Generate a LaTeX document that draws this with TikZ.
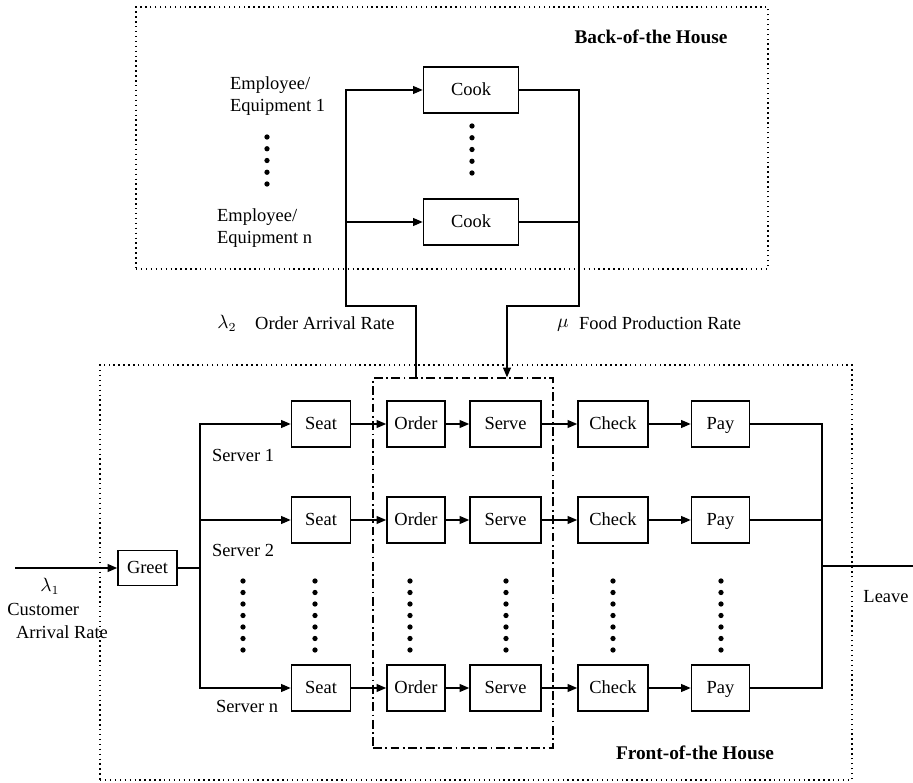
\documentclass[tikz,border=0pt]{standalone}
\usepackage{fontspec}
\setmainfont{Liberation Serif}
\usepackage{tikz}
\usetikzlibrary{arrows.meta,positioning,calc}

\begin{document}
\begin{tikzpicture}[x=0.02cm, y=-0.02cm, font=\fontsize{10.5}{13}\selectfont,
    proc/.style={draw, line width=0.9pt, minimum height=0.92cm, inner sep=1pt,
      text height=1.5ex, text depth=0.1ex},
    arr/.style={-{Triangle[length=5.5pt,width=4.5pt]}},
    conn/.style={line width=0.75pt},
    region/.style={draw, dotted, line width=0.8pt},
    vdots/.style={fill=black, circle, inner sep=0pt, minimum size=3pt}]
  \useasboundingbox (0,0) rectangle (913,783);
  % Regions
  \node[region, minimum width=12.64cm, minimum height=5.24cm] (back) at (452,138) {};
  \node[region, minimum width=15.04cm, minimum height=8.3cm] (front) at (476,572.5) {};
  \node[font=\fontsize{11}{13}\selectfont\bfseries] (backlbl) at (651,37) {Back-of-the House};
  \node[font=\fontsize{11}{13}\selectfont\bfseries] (frontlbl) at (695,753) {Front-of-the House};
  % Kitchen
  \node[proc, minimum width=1.9cm] (cook1) at (471,90) {Cook};
  \node[proc, minimum width=1.9cm] (cookn) at (471,222) {Cook};
  \node[align=left, anchor=west] (emp1) at (224,96) {Employee/\\Equipment 1};
  \node[align=left, anchor=west] (empn) at (211,228) {Employee/\\Equipment n};
  \foreach \y in {0,...,4} {
    \node[vdots] at (267,137+11.75*\y) {};
    \node[vdots] at (472,126+11.75*\y) {};
  }
  % Dining room stages
  \node[draw, line width=0.8pt, dash pattern=on 5pt off 2pt on 1pt off 2pt,
        minimum width=3.6cm, minimum height=7.4cm] (hub) at (463,563) {};
  \foreach \r/\y in {1/424,2/520,n/688} {
    \node[proc, minimum width=1.18cm] (seat\r) at (321,\y) {Seat};
    \node[proc, minimum width=1.16cm] (order\r) at (416,\y) {Order};
    \node[proc, minimum width=1.42cm] (serve\r) at (505.5,\y) {Serve};
    \node[proc, minimum width=1.4cm] (check\r) at (613,\y) {Check};
    \node[proc, minimum width=1.16cm] (pay\r) at (720.5,\y) {Pay};
    \draw[conn, arr] (seat\r) -- (order\r);
    \draw[conn, arr] (order\r) -- (serve\r);
    \draw[conn, arr] (serve\r) -- (check\r);
    \draw[conn, arr] (check\r) -- (pay\r);
  }
  \foreach \x in {243,315,410,506,613,721}
    \foreach \y in {0,...,6}
      \node[vdots] at (\x,581+11.5*\y) {};
  \node[proc, minimum width=1.18cm, minimum height=0.7cm] (greet) at (147.5,568) {Greet};
  % Arrivals
  \coordinate (enter) at (15,568);
  \draw[conn, arr] (enter) -- (greet);
  \node (lam1) at (50,586) {$\lambda_1$};
  \node[align=left, anchor=west, inner sep=0pt] (custlbl) at (7,621) {Customer\\\hspace{5pt}Arrival Rate};
  \coordinate (split) at (200,568);
  \draw[conn] (greet.east) -- (split);
  \draw[conn, arr] (split) |- (seat1.west);
  \draw[conn, arr] (split) |- (seatn.west);
  \draw[conn, arr] (split |- seat2) -- (seat2.west);
  \node (srv1) at (243,455) {Server 1};
  \node (srv2) at (243,550) {Server 2};
  \node (srvn) at (247,706) {Server n};
  % Departures
  \coordinate (join) at (822,566);
  \coordinate (exit) at (913,566);
  \draw[conn] (pay1.east) -| (join);
  \draw[conn] (payn.east) -| (join);
  \draw[conn] (pay2.east) -- (pay2.east -| join);
  \draw[conn] (join) -- (exit);
  \node (leave) at (886,597) {Leave};
  % Orders to kitchen, food back
  \coordinate (bendL) at (346,306);
  \coordinate (bendR) at (579,306);
  \draw[conn, arr] (hub.north -| order1) |- (bendL) |- (cook1.west);
  \draw[conn, arr] (bendL |- cookn) -- (cookn.west);
  \draw[conn, arr] (cook1.east) -| (bendR) -| (hub.north -| 507,0);
  \draw[conn] (cookn.east) -- (cookn.east -| bendR);
  \node (lam2) at (227,323) {$\lambda_2$};
  \node[anchor=west] (ordlbl) at (249,323) {Order Arrival Rate};
  \node (mu) at (563,325) {$\mu$};
  \node[anchor=west] (foodlbl) at (573,323) {Food Production Rate};
\end{tikzpicture}
\end{document}
